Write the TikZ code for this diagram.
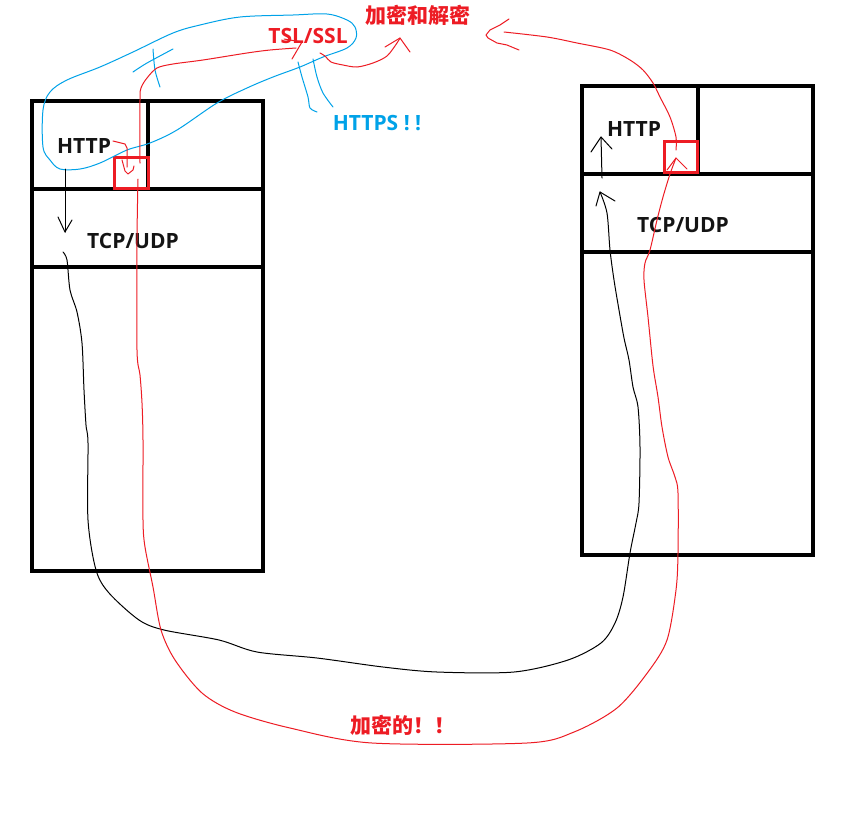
\documentclass[tikz,border=0pt]{standalone}
\usepackage{fontspec}
\setmainfont{Open Sans}
\newfontfamily\cjk{Noto Sans CJK SC}
\definecolor{pred}{RGB}{237,28,36}
\definecolor{pblue}{RGB}{0,162,232}
\definecolor{ptext}{RGB}{20,20,20}
\begin{document}
\begin{tikzpicture}[x=1pt,y=-1pt,
  box/.style={draw=black,line width=3.2pt},
  sq/.style={draw=pred,line width=3pt},
  ink/.style={line width=1pt,line join=round,line cap=round},
  lbl/.style={font=\fontsize{21}{25}\selectfont\bfseries,inner sep=0pt,anchor=base},
  clbl/.style={font=\cjk\fontsize{21}{25}\selectfont\bfseries,inner sep=0pt,anchor=base,text=pred}]
\useasboundingbox[fill=white] (0,0) rectangle (854,828);

% ---------- left stack ----------
\draw[box] (32,101) rectangle (263,571);
\draw[box] (32,189) -- (263,189);
\draw[box] (32,267) -- (263,267);
\draw[box] (148,101) -- (148,189);
\draw[sq] (114,157) rectangle (148,188);
\node[lbl,text=ptext] (httpL) at (84,153) {HTTP};
\node[lbl,text=ptext] (tcpL) at (133,248) {TCP/UDP};

% ---------- right stack ----------
\draw[box] (582,86) rectangle (813,555);
\draw[box] (582,174) -- (813,174);
\draw[box] (582,252) -- (813,252);
\draw[box] (698,86) -- (698,174);
\draw[sq] (664,141) rectangle (697,172);
\node[lbl,text=ptext] (httpR) at (634,136) {HTTP};
\node[lbl,text=ptext] (tcpR) at (683,232) {TCP/UDP};

% ---------- top labels ----------
\node[lbl,text=pred] (tsl) at (308,43) {TSL/SSL};
\node[clbl] (crypt) at (418,23) {加密和解密};
\node[lbl,text=pblue] (https) at (377,130) {HTTPS ! !};
\node[clbl,anchor=base west] (enc) at (350,733) {加密的！！};

% ---------- blue loop ----------
\draw[ink,pblue] plot[smooth cycle,tension=0.55] coordinates {
 (60,169) (80,169) (100,163) (127,150) (150,143) (177,130) (217,103)
 (247,88) (273,77) (300,67) (323,57) (347,48) (356,38) (355,27) (347,20)
 (327,14) (293,15) (240,17) (200,25) (173,33) (133,52) (100,67) (67,80)
 (50,92) (43,110) (43,147) (50,160)};
\draw[ink,pblue] plot[smooth,tension=0.5] coordinates {(133,72) (147,63) (173,49)};
\draw[ink,pblue] plot[smooth,tension=0.5] coordinates {(153,49) (155,70) (160,87)};
\draw[ink,pblue] plot[smooth,tension=0.5] coordinates {(298,62) (302,77) (308,97) (310,108) (317,112)};
\draw[ink,pblue] plot[smooth,tension=0.5] coordinates {(313,59) (317,77) (323,93) (333,107)};

% ---------- black paths ----------
\draw[ink] (65,169) -- (65,232);
\draw[ink] (58,217) -- (65,232) -- (72,220);
\draw[ink] plot[smooth,tension=0.5] coordinates {
 (63,252) (67,260) (70,290) (77,312) (82,343) (84,390) (86,425) (88,443)
 (88,520) (96,570) (109,593) (139,620) (164,630) (219,640) (257,652)
 (317,658) (383,667) (437,672) (514,672) (568,660) (601,643) (615,623)
 (623,597) (630,553) (636,523) (639,503) (640,447) (638,407) (633,387)
 (629,360) (624,338) (619,310) (614,280) (610,250) (607,213) (600,192)};
\draw[ink] (596,206) -- (600,192) -- (615,201);
\draw[ink] (602,178) -- (601,137);
\draw[ink] (591,152) -- (601,137) -- (612,149);

% ---------- red paths ----------
% HTTP -> square (left)
\draw[ink,pred] (113,141) -- (125,144) -- (127,148) -- (127,167);
\draw[ink,pred] (122,160) -- (125,171) -- (128,174) -- (133,170) -- (134,166);
% left square -> TSL/SSL
\draw[ink,pred] plot[smooth,tension=0.5] coordinates {
 (140,163) (140,100) (141,88) (147,78) (157,68) (173,64) (203,60) (247,53) (270,50) (296,48)};
\draw[ink,pred] (292,59) -- (302,42);
\draw[ink,pred] (284,39) -- (302,42);
% TSL/SSL -> 加密和解密
\draw[ink,pred] plot[smooth,tension=0.5] coordinates {
 (320,53) (325,56) (331,62) (343,65) (357,67) (373,63) (387,56) (397,43) (400,38)};
\draw[ink,pred] (385,47) -- (400,38) -- (410,52);
% long encrypted path bottom
\draw[ink,pred] plot[smooth,tension=0.5] coordinates {
 (138,179) (137,240) (137,350) (140,375) (142,403) (143,440) (143,520)
 (145,547) (153,587) (161,630) (175,660) (202,693) (235,712) (290,728)
 (372,743) (527,743) (574,732) (617,708) (648,672) (667,640) (676,590)
 (678,553) (678,493) (675,477) (668,457) (662,427) (658,397) (654,373)
 (652,357) (648,317) (644,280) (645,263) (650,250) (657,220) (663,197)
 (670,174) (676,158)};
\draw[ink,pred] (667,170) -- (676,158) -- (687,169);
% right square -> 加密和解密
\draw[ink,pred] plot[smooth,tension=0.5] coordinates {
 (676,150) (676,137) (670,117) (660,97) (653,83) (643,70) (630,60) (610,50)
 (577,43) (547,37) (504,32)};
\draw[ink,pred] (509,19) -- (500,25) -- (490,30) -- (486,35) -- (488,38) -- (497,43) -- (507,45) -- (519,50);
\end{tikzpicture}
\end{document}
